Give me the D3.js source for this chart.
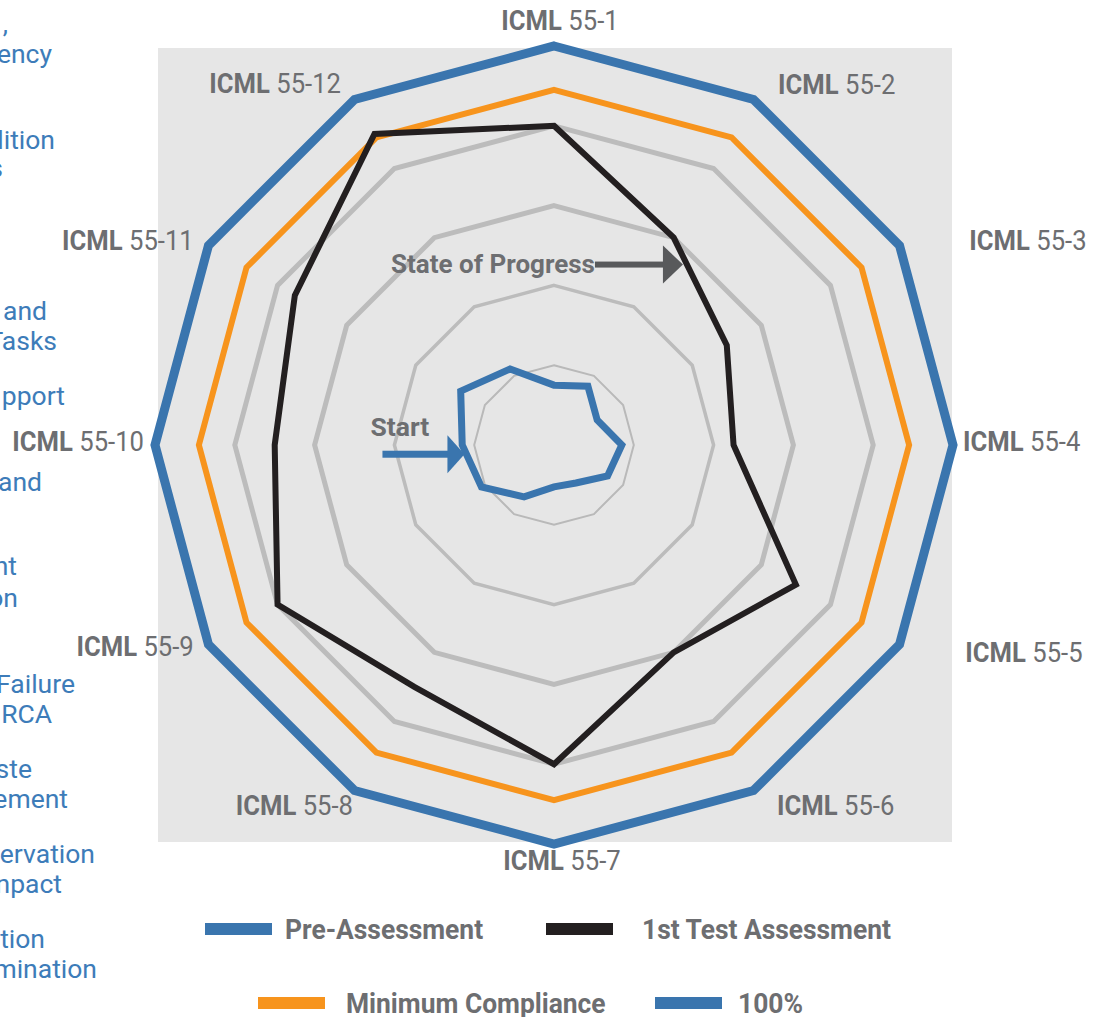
<!DOCTYPE html>
<html>
<head>
<meta charset="utf-8">
<script src="https://cdn.jsdelivr.net/npm/d3@7"></script>
<style>
  body { margin: 0; background: #fff; }
  svg { display: block; }
  text { font-family: Roboto, "Open Sans", sans-serif; }
</style>
</head>
<body>
<svg id="chart" width="1099" height="1017"></svg>
<script>
// axes of the radar, clockwise from the top
const axes = ["55-1", "55-2", "55-3", "55-4", "55-5", "55-6",
              "55-7", "55-8", "55-9", "55-10", "55-11", "55-12"];
// scores in % of full compliance
const preAssessment = [15, 17, 12.5, 17, 15.5, 11, 10.5, 15, 21, 23, 27, 22];
const firstTest     = [80, 60, 50, 45, 70, 60, 80, 70, 80, 70, 75, 90];
const minCompliance = [89, 89, 89, 89, 89, 89, 89, 89, 89, 89, 89, 89];
const fullScore     = [100, 100, 100, 100, 100, 100, 100, 100, 100, 100, 100, 100];
const gridLevels = [20, 40, 60, 80];

const legendNames = ["Pre-Assessment", "1st Test Assessment", "Minimum Compliance", "100%"];

// cropped text of the neighbouring page column
const sideText = [",", "ency", "lition", "s", "and", "Tasks", "pport", "and", "nt", "on",
                  "Failure", "RCA", "ste", "ement", "ervation", "npact", "tion", "mination"];

// ---- layout ----
const cx = 554, cy = 445, R = 399;
const grey = "#6d6e71", blue = "#3a75ae", orange = "#f7941d", black = "#231f20";
const sideLayout = [[8,33],[52,63],[55,149],[3,177],[47,320],[57,350],[65,405],[42,491],
                    [17,575],[18,607],[75,693],[52,723],[32,778],[68,808],[95,863],[62,893],
                    [45,948],[97,978]];
const labelNudge = [[6,-8],[16,0],[55,4],[-7,-3],[51,0],[15,0],[8,0],[7,0],[0,-6],[6,-3],[0,4],[-5,-1]];
const legendLayout = [[205,285,929],[546,642,929],[258,346,1003],[655,738,1003]];

const svg = d3.select("#chart");
const r = d3.scaleLinear().domain([0, 100]).range([0, R]);
const a = d3.scaleLinear().domain([0, axes.length]).range([0, 2 * Math.PI]);
const radar = d3.lineRadial()
    .angle((d, i) => a(i))
    .radius(d => r(d))
    .curve(d3.curveLinearClosed);
const pt = (v, i) => [Math.sin(a(i)) * r(v), -Math.cos(a(i)) * r(v)];

// side column text
svg.append("g").selectAll("text").data(sideText).join("text")
    .attr("x", (d, i) => sideLayout[i][0])
    .attr("y", (d, i) => sideLayout[i][1])
    .attr("text-anchor", "end")
    .attr("font-size", 26.5)
    .attr("fill", "#3d7cb9")
    .text(d => d);

const g = svg.append("g").attr("transform", `translate(${cx},${cy})`);

g.append("rect")
    .attr("x", -R + 3).attr("y", -R + 2)
    .attr("width", 2 * R - 4).attr("height", 2 * R - 4)
    .attr("fill", "#e6e6e6");

g.selectAll(".grid").data(gridLevels).join("path")
    .attr("class", "grid")
    .attr("d", v => radar(axes.map(() => v)))
    .attr("fill", "none")
    .attr("stroke", v => v < 30 ? "#b9b9b9" : "#bcbcbc")
    .attr("stroke-width", v => v < 30 ? 2 : v < 50 ? 3.5 : 5);

const series = [
    {vals: minCompliance, color: orange, w: 6},
    {vals: fullScore, color: blue, w: 9},
    {vals: firstTest, color: black, w: 6},
    {vals: preAssessment, color: blue, w: 7}
];
g.selectAll(".series").data(series).join("path")
    .attr("class", "series")
    .attr("d", s => radar(s.vals))
    .attr("fill", "none")
    .attr("stroke", s => s.color)
    .attr("stroke-width", s => s.w)
    .attr("stroke-linejoin", "miter");

// axis labels
const lab = g.selectAll(".axlab").data(axes).join("g")
    .attr("class", "axlab")
    .attr("transform", (d, i) => {
        const x = Math.sin(a(i)) * 416 + labelNudge[i][0],
              y = -Math.cos(a(i)) * 416 + labelNudge[i][1];
        return `translate(${x},${y}) scale(0.95,1)`;
    });
const lt = lab.append("text")
    .attr("text-anchor", (d, i) => {
        const s = Math.sin(a(i));
        return s > 0.01 ? "start" : s < -0.01 ? "end" : "middle";
    })
    .attr("dy", "0.35em")
    .attr("font-size", 27)
    .attr("fill", grey);
lt.append("tspan").attr("font-weight", 700).text("ICML");
lt.append("tspan").text(d => "\u00a0" + d);

// annotation arrows, tips sit on the plotted lines
function arrow(tip, len, head, halfH, shaftW, color) {
    const [x, y] = tip;
    g.append("rect")
        .attr("x", x - len).attr("y", y - shaftW / 2)
        .attr("width", len - head + 1).attr("height", shaftW)
        .attr("fill", color);
    g.append("path")
        .attr("d", `M${x},${y}L${x - head},${y - halfH}L${x - head},${y + halfH}Z`)
        .attr("fill", color);
}
function along(vals, i, j, t, dx) {
    const p = pt(vals[i], i), q = pt(vals[j], j);
    return [p[0] + (q[0] - p[0]) * t + dx, p[1] + (q[1] - p[1]) * t];
}

const progTip = along(firstTest, 1, 2, 0.25, -4);
arrow(progTip, 88, 20, 19, 6, "#58595b");
g.append("text")
    .attr("x", progTip[0] - 88).attr("y", progTip[1] + 8)
    .attr("text-anchor", "end")
    .attr("font-size", 26).attr("font-weight", 700)
    .attr("fill", grey)
    .text("State of Progress");

const startTip = along(preAssessment, 9, 8, 0.22, -2);
arrow(startTip, 82, 17, 19, 7, blue);
g.append("text")
    .attr("x", startTip[0] - 94).attr("y", startTip[1] - 18)
    .attr("font-size", 26.5).attr("font-weight", 700)
    .attr("fill", grey)
    .text("Start");

// legend
const leg = svg.append("g").selectAll("g").data(legendNames).join("g");
leg.append("rect")
    .attr("x", (d, i) => legendLayout[i][0])
    .attr("y", (d, i) => legendLayout[i][2] - 6)
    .attr("width", 67).attr("height", 12)
    .attr("fill", (d, i) => [blue, black, orange, blue][i]);
leg.append("text")
    .attr("transform", (d, i) => `translate(${legendLayout[i][1]},${legendLayout[i][2]}) scale(0.96,1)`)
    .attr("dy", "0.35em")
    .attr("font-size", 27.5).attr("font-weight", 700)
    .attr("fill", grey)
    .text(d => d);
</script>
</body>
</html>
